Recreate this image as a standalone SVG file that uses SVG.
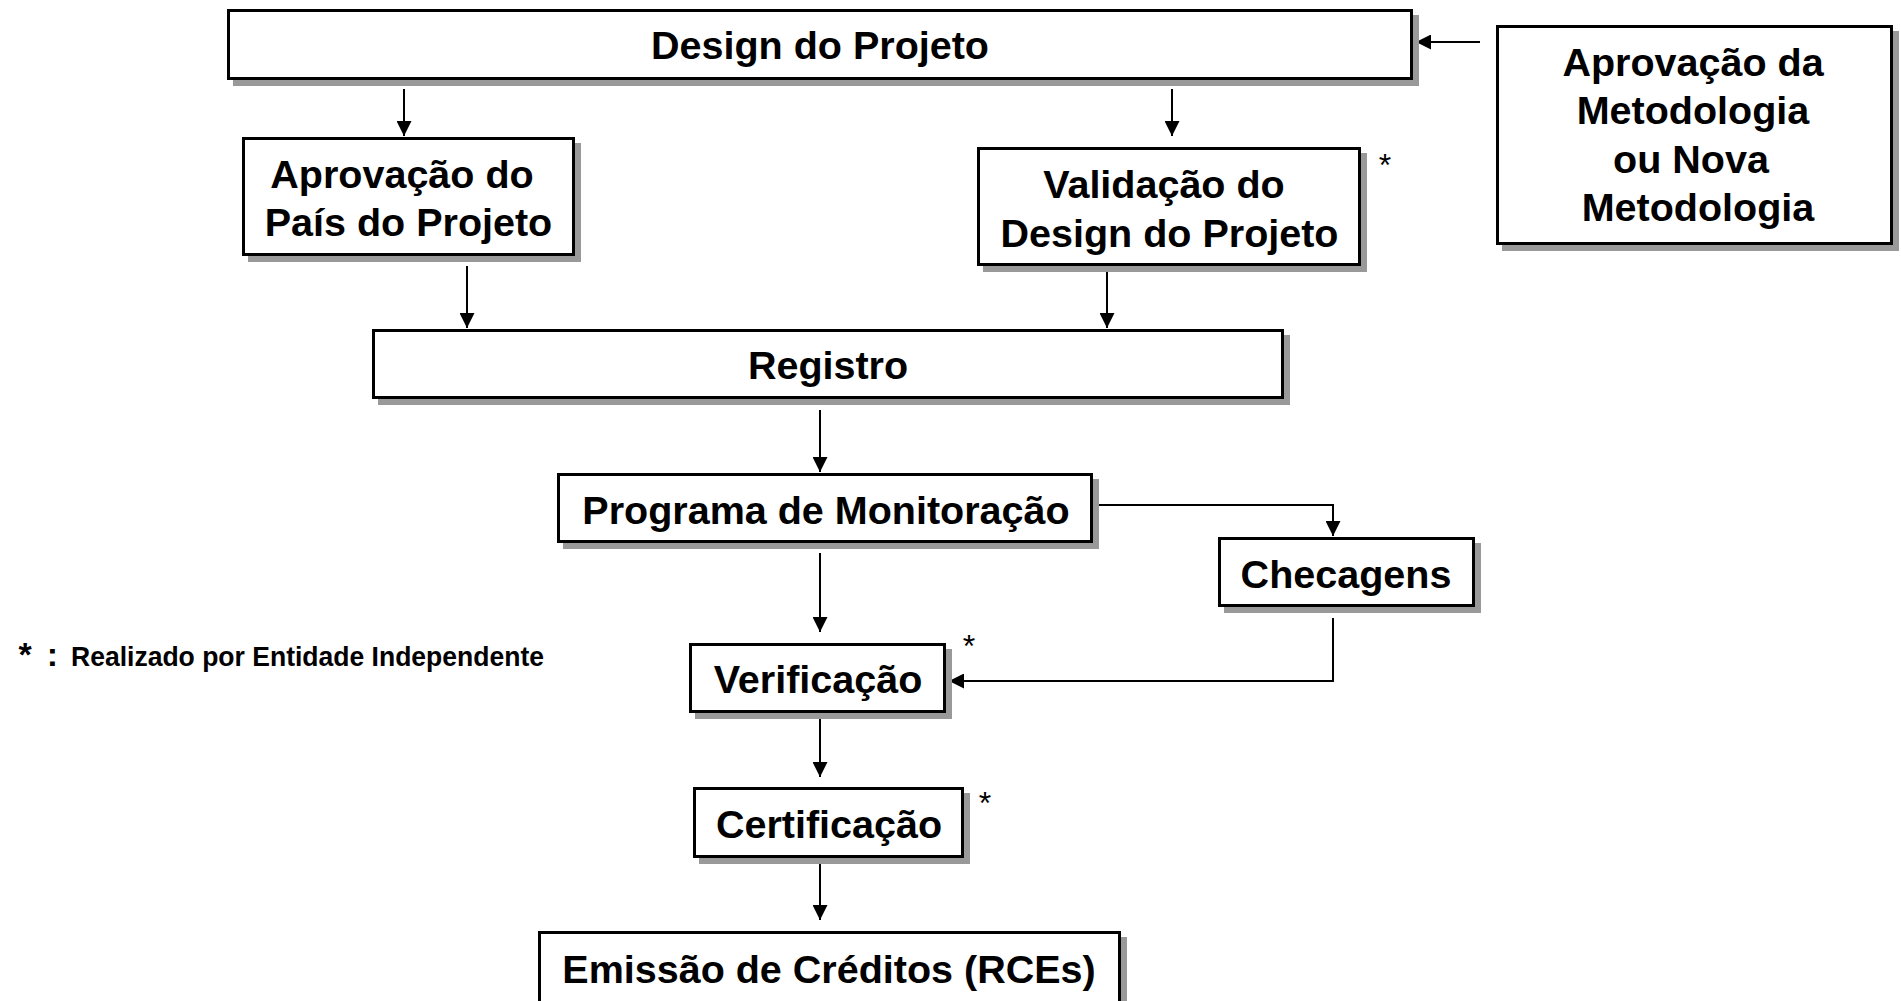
<svg xmlns="http://www.w3.org/2000/svg" width="1901" height="1001" viewBox="0 0 1901 1001">
<style>
.bg{fill:#fff}
.sh{fill:#999;stroke:#999;stroke-width:3}
.box{fill:#fff;stroke:#000;stroke-width:3}
.t{font-family:"Liberation Sans",Arial,sans-serif;font-weight:bold;font-size:39.5px;fill:#000;text-anchor:middle}
.ast{font-family:"Liberation Sans",Arial,sans-serif;font-size:32px;fill:#000;text-anchor:middle}
.leg{font-family:"Liberation Sans",Arial,sans-serif;font-weight:bold;fill:#000}
.c{fill:none;stroke:#000;stroke-width:2;marker-end:url(#ah)}
</style>
<defs>
<marker id="ah" markerUnits="userSpaceOnUse" markerWidth="15" markerHeight="15" refX="14" refY="7" orient="auto" viewBox="0 0 14 14">
<path d="M0,0 L14,7 L0,14 z" fill="#000"/>
</marker>
</defs>
<rect class="bg" x="0" y="0" width="1901" height="1001"/>

<g id="connectors">
<path class="c" d="M404,89 V136"/>
<path class="c" d="M1172,89 V136"/>
<path class="c" d="M1480,42 H1416"/>
<path class="c" d="M467,266 V328"/>
<path class="c" d="M1107,267 V328"/>
<path class="c" d="M820,410 V472"/>
<path class="c" d="M1093,505 H1333 V536"/>
<path class="c" d="M820,553 V632"/>
<path class="c" d="M1333,618 V681 H949"/>
<path class="c" d="M820,715 V777"/>
<path class="c" d="M820,860 V920"/>
</g>

<g id="design-projeto">
<rect class="sh" x="234.5" y="16.5" width="1183" height="68"/>
<rect class="box" x="228.5" y="10.5" width="1183" height="68"/>
<text class="t" x="820" y="59">Design do Projeto</text>
</g>

<g id="aprovacao-pais">
<rect class="sh" x="249.5" y="144.5" width="330" height="116"/>
<rect class="box" x="243.5" y="138.5" width="330" height="116"/>
<text class="t" x="402" y="188">Aprovação do</text>
<text class="t" x="408.5" y="236">País do Projeto</text>
</g>

<g id="validacao-design">
<rect class="sh" x="984.5" y="154.5" width="381" height="116"/>
<rect class="box" x="978.5" y="148.5" width="381" height="116"/>
<text class="t" x="1164" y="198">Validação do</text>
<text class="t" x="1169.5" y="247">Design do Projeto</text>
<text class="ast" x="1385" y="176">*</text>
</g>

<g id="aprovacao-metodologia">
<rect class="sh" x="1503.5" y="32.5" width="394" height="217"/>
<rect class="box" x="1497.5" y="26.5" width="394" height="217"/>
<text class="t" x="1693" y="76">Aprovação da</text>
<text class="t" x="1693" y="124">Metodologia</text>
<text class="t" x="1691" y="173">ou Nova</text>
<text class="t" x="1698" y="221">Metodologia</text>
</g>

<g id="registro">
<rect class="sh" x="379.5" y="336.5" width="909" height="67"/>
<rect class="box" x="373.5" y="330.5" width="909" height="67"/>
<text class="t" x="828" y="379">Registro</text>
</g>

<g id="programa-monitoracao">
<rect class="sh" x="564.5" y="480.5" width="533" height="67"/>
<rect class="box" x="558.5" y="474.5" width="533" height="67"/>
<text class="t" x="826" y="524">Programa de Monitoração</text>
</g>

<g id="checagens">
<rect class="sh" x="1225.5" y="544.5" width="254" height="67"/>
<rect class="box" x="1219.5" y="538.5" width="254" height="67"/>
<text class="t" x="1346" y="588">Checagens</text>
</g>

<g id="verificacao">
<rect class="sh" x="696.5" y="650.5" width="254" height="67"/>
<rect class="box" x="690.5" y="644.5" width="254" height="67"/>
<text class="t" x="818" y="693">Verificação</text>
<text class="ast" x="969" y="657">*</text>
</g>

<g id="certificacao">
<rect class="sh" x="700.5" y="794.5" width="268" height="68"/>
<rect class="box" x="694.5" y="788.5" width="268" height="68"/>
<text class="t" x="829" y="838">Certificação</text>
<text class="ast" x="985" y="814">*</text>
</g>

<g id="emissao-creditos">
<rect class="sh" x="545.5" y="938.5" width="580" height="70"/>
<rect class="box" x="539.5" y="932.5" width="580" height="70"/>
<text class="t" x="829" y="983">Emissão de Créditos (RCEs)</text>
</g>

<g id="legenda">
<text class="leg" x="25" y="666" font-size="34" text-anchor="middle">*</text>
<text class="leg" x="52.5" y="666" font-size="34" text-anchor="middle">:</text>
<text class="leg" x="71" y="666" font-size="28" textLength="473" lengthAdjust="spacingAndGlyphs">Realizado por Entidade Independente</text>
</g>
</svg>
